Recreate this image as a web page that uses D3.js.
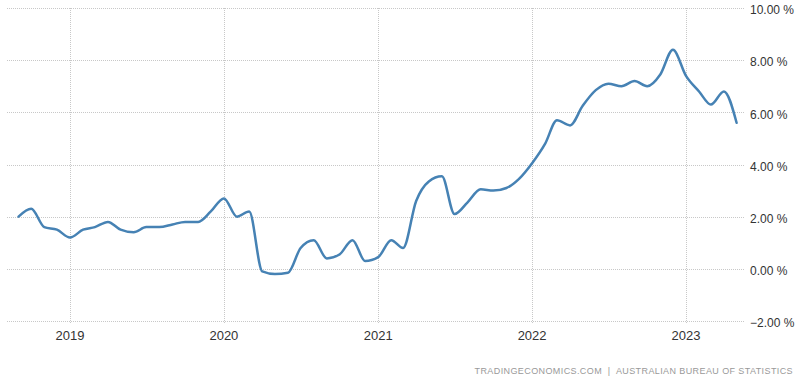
<!DOCTYPE html>
<html>
<head>
<meta charset="utf-8">
<script src="https://cdn.jsdelivr.net/npm/d3@7"></script>
<style>
  body { margin: 0; background: #fff; }
  svg { display: block; }
</style>
</head>
<body>
<div id="container"></div>
<script>
// monthly values, Sep 2018 .. May 2023
const startMonth = [2018, 8]  // year, zero-based month
const cpiValues = [
  2.0, 2.3, 1.6, 1.5,                                          // 2018 Sep-Dec
  1.2, 1.5, 1.6, 1.8, 1.5, 1.4, 1.6, 1.6, 1.7, 1.8, 1.8, 2.2,  // 2019
  2.7, 2.0, 2.2, -0.1, -0.2, -0.15, 0.8, 1.1, 0.4, 0.55, 1.1, 0.3, // 2020
  0.45, 1.1, 0.8, 2.6, 3.35, 3.55, 2.1, 2.55, 3.05, 3.0, 3.1, 3.45, // 2021
  4.05, 4.8, 5.7, 5.5, 6.25, 6.85, 7.1, 7.0, 7.2, 7.0, 7.45, 8.4,   // 2022
  7.4, 6.8, 6.3, 6.8, 5.6                                      // 2023 Jan-May
]
const yTicks = [-2, 0, 2, 4, 6, 8, 10]
const xTickYears = [2019, 2020, 2021, 2022, 2023]
const sourceText = "TRADINGECONOMICS.COM  |  AUSTRALIAN BUREAU OF STATISTICS"

const data = cpiValues.map((v, i) => ({
  date: new Date(Date.UTC(startMonth[0], startMonth[1] + i, 1)),
  value: v
}))

const width = 800
const height = 381
const svg = d3.create("svg")
  .attr("width", width)
  .attr("height", height)
container.append(svg.node())

const plot = {left: 7, right: 745, top: 8, bottom: 321}

const x = d3.scaleUtc()
  .domain([new Date(Date.UTC(2019, 0, 1)), new Date(Date.UTC(2023, 0, 1))])
  .range([70, 686])

const y = d3.scaleLinear()
  .domain([-2, 10])
  .range([plot.bottom, plot.top])

// dotted grid
svg.append("g")
  .selectAll("line")
  .data(yTicks)
  .join("line")
  .attr("x1", plot.left)
  .attr("x2", plot.right)
  .attr("y1", d => Math.round(y(d)) + 0.5)
  .attr("y2", d => Math.round(y(d)) + 0.5)
  .style("stroke", "#c8c8c8")
  .style("stroke-width", 1)
  .style("stroke-dasharray", "1,1")

svg.append("g")
  .selectAll("line")
  .data(xTickYears)
  .join("line")
  .attr("x1", d => Math.round(x(new Date(Date.UTC(d, 0, 1)))) + 0.5)
  .attr("x2", d => Math.round(x(new Date(Date.UTC(d, 0, 1)))) + 0.5)
  .attr("y1", plot.top)
  .attr("y2", plot.bottom + 2)
  .style("stroke", "#c8c8c8")
  .style("stroke-width", 1)
  .style("stroke-dasharray", "1,1")

// y labels on the right
svg.append("g")
  .selectAll("text")
  .data(yTicks)
  .join("text")
  .attr("x", 750)
  .attr("y", d => y(d) + 2)
  .attr("dy", "0.35em")
  .style("font-family", "'Liberation Sans', Arial, sans-serif")
  .style("font-size", "12px")
  .style("fill", "#333")
  .text(d => d3.format(".2f")(d) + " %")

// x labels
svg.append("g")
  .selectAll("text")
  .data(xTickYears)
  .join("text")
  .attr("x", d => x(new Date(Date.UTC(d, 0, 1))))
  .attr("y", 335)
  .attr("dy", "0.35em")
  .attr("text-anchor", "middle")
  .style("font-family", "'Liberation Sans', Arial, sans-serif")
  .style("font-size", "13px")
  .style("fill", "#333")
  .text(d => d)

// the series
const line = d3.line()
  .x(d => x(d.date))
  .y(d => y(d.value))
  .curve(d3.curveMonotoneX)

svg.append("path")
  .datum(data)
  .attr("d", line)
  .style("fill", "none")
  .style("stroke", "#4682b4")
  .style("stroke-width", 2.5)
  .style("stroke-linejoin", "round")
  .style("stroke-linecap", "round")

// source
svg.append("text")
  .attr("x", 793)
  .attr("y", 371)
  .attr("dy", "0.35em")
  .attr("text-anchor", "end")
  .style("font-family", "'Liberation Sans', Arial, sans-serif")
  .style("font-size", "9px")
  .style("letter-spacing", "0.4px")
  .style("fill", "#999")
  .style("white-space", "pre")
  .text(sourceText)
</script>
</body>
</html>
